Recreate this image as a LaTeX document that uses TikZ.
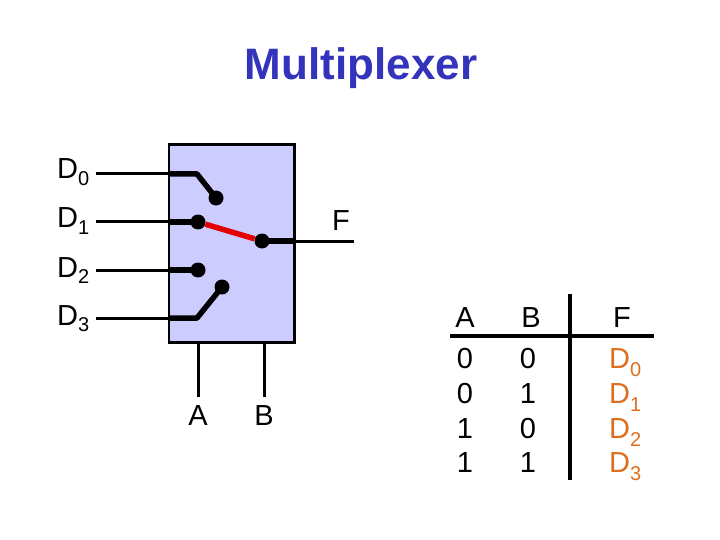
\documentclass[tikz,border=0pt]{standalone}
\usepackage{fontspec}
\setmainfont{Liberation Sans}
\usepackage{tikz}
\usetikzlibrary{positioning}
\definecolor{muxblue}{HTML}{3333BB}
\definecolor{muxfill}{HTML}{CCCCFF}
\definecolor{muxorange}{HTML}{DD6E1E}
\newcommand{\Dsub}[2][-6pt]{D\raisebox{#1}{\fontsize{20}{20}\selectfont #2}}
\tikzset{
  wire/.style={line width=3pt},
  thickwire/.style={line width=5.5pt},
  pin/.style={circle, fill=black, inner sep=0pt, minimum size=15pt},
  lbl/.style={font=\fontsize{29}{29}\selectfont, inner sep=0pt, anchor=base},
  outlbl/.style={lbl, text=muxorange, anchor=base west}
}
\begin{document}
\begin{tikzpicture}[x=1pt, y=-1pt]
  \useasboundingbox (0,0) rectangle (720,540);
  \node[font=\fontsize{44}{44}\selectfont\bfseries, text=muxblue, inner sep=0pt, anchor=base] (title) at (361,80) {Multiplexer};

  % Mux body
  \node[draw=black, fill=muxfill, line width=2.8pt, minimum width=125.5pt, minimum height=197.5pt,
        inner sep=0pt, anchor=north west] (mux) at (167.6,143.2) {};

  % Pins and free wire ends
  \node[pin] (p0) at (216,198) {};
  \node[pin] (p1) at (198,222) {};
  \node[pin] (p2) at (198,270) {};
  \node[pin] (p3) at (222,287) {};
  \node[pin] (pf) at (262,241) {};
  \coordinate (k0) at (197,174);
  \coordinate (k3) at (197,318);
  \coordinate (e0) at (168,174);
  \coordinate (e1) at (168,222);
  \coordinate (e2) at (168,270);
  \coordinate (e3) at (168,318);
  \coordinate (ef) at (295,241);
  \coordinate (s0) at (96,174);
  \coordinate (s1) at (96,222);
  \coordinate (s2) at (96,270);
  \coordinate (s3) at (96,318);
  \coordinate (tf) at (354,241);

  % Input labels
  \node[lbl, anchor=base west] (d0) at (57,179) {\Dsub{0}};
  \node[lbl, anchor=base west] (d1) at (57,228) {\Dsub{1}};
  \node[lbl, anchor=base west] (d2) at (57,277) {\Dsub{2}};
  \node[lbl, anchor=base west] (d3) at (57,325) {\Dsub{3}};
  \node[lbl] (f) at (341,230) {F};
  \node[lbl] (a) at (198,425) {A};
  \node[lbl] (b) at (264,425) {B};
  \coordinate (ea) at (198,397);
  \coordinate (eb) at (264,397);
  \coordinate (ma) at (198,342);
  \coordinate (mb) at (264,342);

  % Wires
  \draw[wire] (s0) -- (e0);
  \draw[wire] (s1) -- (e1);
  \draw[wire] (s2) -- (e2);
  \draw[wire] (s3) -- (e3);
  \draw[thickwire, line join=round] (e0) -- (k0) -- (p0.center);
  \draw[thickwire] (e1) -- (p1.center);
  \draw[thickwire] (e2) -- (p2.center);
  \draw[thickwire, line join=round] (e3) -- (k3) -- (p3.center);
  \draw[thickwire] (pf.center) -- (ef);
  \draw[wire] (ef) -- (tf);
  \draw[thickwire, red!90!black] (p1) -- (pf);
  \draw[wire] (ma) -- (ea);
  \draw[wire] (mb) -- (eb);

  % Truth table
  \coordinate (hl) at (450,336);
  \coordinate (hr) at (654,336);
  \coordinate (vt) at (570,294);
  \coordinate (vb) at (570,480);
  \draw[line width=3.6pt] (hl) -- (hr);
  \draw[line width=3.6pt] (vt) -- (vb);
  \node[lbl] (ha) at (465,327) {A};
  \node[lbl] (hb) at (531,327) {B};
  \node[lbl] (hf) at (622,327) {F};
  \node[lbl] (a0) at (465,368) {0};
  \node[lbl] (b0) at (528,368) {0};
  \node[lbl] (a1) at (465,403) {0};
  \node[lbl] (b1) at (528,403) {1};
  \node[lbl] (a2) at (465,438) {1};
  \node[lbl] (b2) at (528,438) {0};
  \node[lbl] (a3) at (465,472) {1};
  \node[lbl] (b3) at (528,472) {1};
  \node[outlbl] (f0) at (609,368) {\Dsub[-8pt]{0}};
  \node[outlbl] (f1) at (609,403) {\Dsub[-8pt]{1}};
  \node[outlbl] (f2) at (609,438) {\Dsub[-8pt]{2}};
  \node[outlbl] (f3) at (609,472) {\Dsub[-8pt]{3}};
\end{tikzpicture}
\end{document}
